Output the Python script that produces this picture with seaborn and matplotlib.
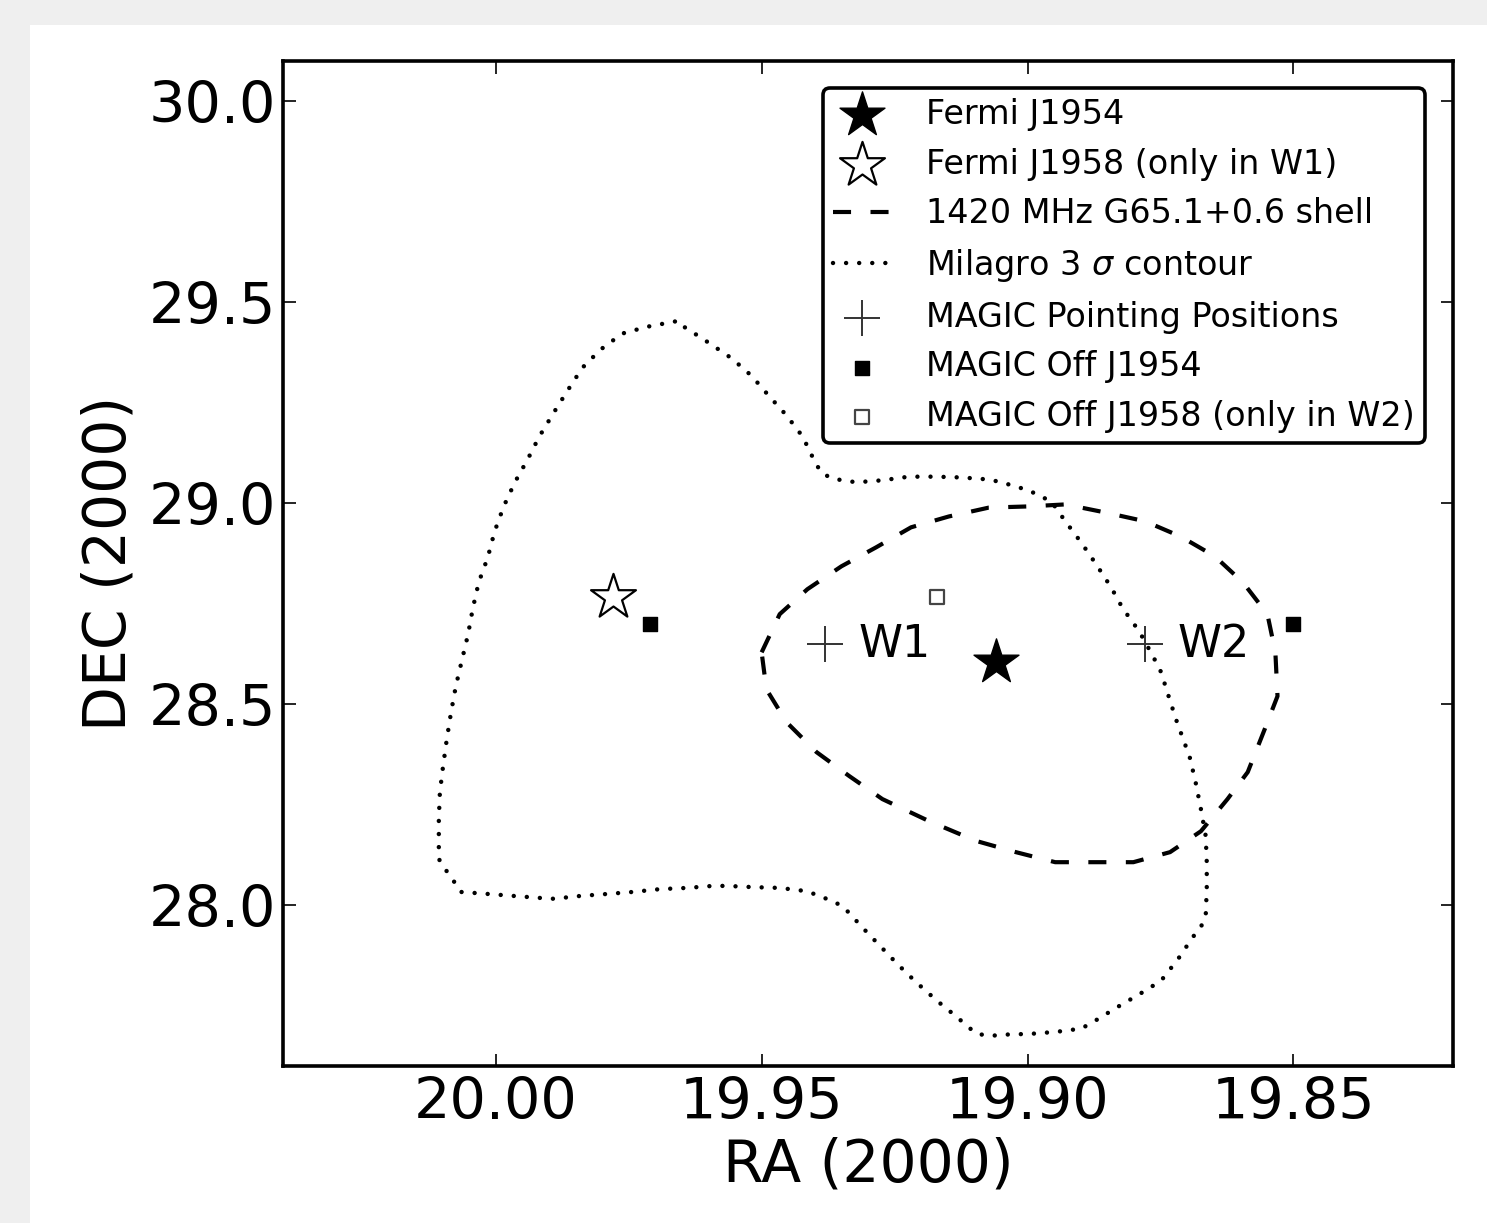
import numpy as np
import pandas as pd
import matplotlib
matplotlib.use("Agg")
import matplotlib.pyplot as plt
from matplotlib.patches import Rectangle
import seaborn as sns

# ---------------- data ----------------
fermi_j1954_ra = [19.906]
fermi_j1954_dec = [28.604]

fermi_j1958_ra = [19.978]
fermi_j1958_dec = [28.766]

pointing_ra = [19.938, 19.878]
pointing_dec = [28.649, 28.649]
pointing_labels = ["W1", "W2"]

off_j1954_ra = [19.971, 19.850]
off_j1954_dec = [28.699, 28.699]

off_j1958_ra = [19.917]
off_j1958_dec = [28.766]

shell_ra = [19.9500, 19.9466, 19.9414, 19.9350, 19.9285, 19.9219, 19.9148, 19.9073,
            19.8998, 19.8929, 19.8854, 19.8779, 19.8712, 19.8648, 19.8595, 19.8549,
            19.8534, 19.8530, 19.8554, 19.8586, 19.8624, 19.8674, 19.8732, 19.8801,
            19.8876, 19.8948, 19.9022, 19.9097, 19.9185, 19.9273, 19.9335, 19.9397,
            19.9453, 19.9491, 19.9500]
shell_dec = [28.629, 28.724, 28.786, 28.843, 28.890, 28.940, 28.967, 28.989,
             28.992, 28.997, 28.977, 28.955, 28.917, 28.868, 28.803, 28.724,
             28.629, 28.520, 28.438, 28.331, 28.264, 28.184, 28.132, 28.107,
             28.107, 28.107, 28.132, 28.160, 28.209, 28.264, 28.321, 28.381,
             28.455, 28.537, 28.629]

milagro_ra = [19.9663, 19.9715, 19.9762, 19.9803, 19.9837, 19.9865, 19.9891, 19.9918,
              19.9940, 19.9964, 19.9985, 20.0002, 20.0015, 20.0032, 20.0043, 20.0052,
              20.0064, 20.0075, 20.0084, 20.0092, 20.0099, 20.0105, 20.0107, 20.0107,
              20.0107, 20.0094, 20.0079, 20.0066, 20.0015, 19.9966, 19.9916, 19.9891,
              19.9841, 19.9790, 19.9742, 19.9691, 19.9640, 19.9592, 19.9566, 19.9517,
              19.9466, 19.9416, 19.9391, 19.9369, 19.9348, 19.9330, 19.9313, 19.9279,
              19.9245, 19.9210, 19.9170, 19.9133, 19.9114, 19.9096, 19.9069, 19.9045,
              19.8994, 19.8946, 19.8899, 19.8876, 19.8833, 19.8788, 19.8749, 19.8717,
              19.8689, 19.8674, 19.8665, 19.8663, 19.8663, 19.8665, 19.8674, 19.8684,
              19.8695, 19.8712, 19.8721, 19.8736, 19.8749, 19.8764, 19.8787, 19.8802,
              19.8820, 19.8843, 19.8871, 19.8899, 19.8929, 19.8955, 19.8998, 19.9049,
              19.9073, 19.9124, 19.9172, 19.9223, 19.9273, 19.9322, 19.9367, 19.9388,
              19.9401, 19.9423, 19.9453, 19.9487, 19.9519, 19.9556, 19.9597, 19.9640,
              19.9663]
milagro_dec = [29.452, 29.439, 29.422, 29.382, 29.337, 29.280, 29.225, 29.166,
               29.109, 29.052, 28.992, 28.930, 28.865, 28.803, 28.739, 28.674,
               28.607, 28.545, 28.480, 28.413, 28.346, 28.281, 28.214, 28.147,
               28.115, 28.088, 28.060, 28.033, 28.028, 28.023, 28.018, 28.016,
               28.023, 28.028, 28.033, 28.040, 28.043, 28.048, 28.048, 28.045,
               28.043, 28.035, 28.023, 28.011, 27.998, 27.973, 27.948, 27.901,
               27.854, 27.809, 27.762, 27.722, 27.700, 27.680, 27.675, 27.678,
               27.680, 27.685, 27.693, 27.710, 27.745, 27.780, 27.812, 27.866,
               27.921, 27.946, 27.973, 28.040, 28.107, 28.172, 28.239, 28.306,
               28.368, 28.430, 28.463, 28.525, 28.580, 28.619, 28.674, 28.704,
               28.736, 28.791, 28.848, 28.902, 28.955, 29.004, 29.032, 29.052,
               29.059, 29.064, 29.066, 29.066, 29.057, 29.052, 29.061, 29.076,
               29.106, 29.166, 29.218, 29.268, 29.317, 29.360, 29.397, 29.434,
               29.452]

x_ticks = [20.00, 19.95, 19.90, 19.85]
x_ticklabels = ["20.00", "19.95", "19.90", "19.85"]
y_ticks = [28.0, 28.5, 29.0, 29.5, 30.0]
y_ticklabels = ["28.0", "28.5", "29.0", "29.5", "30.0"]

labels = ["Fermi J1954", "Fermi J1958 (only in W1)", "1420 MHz G65.1+0.6 shell",
          "Milagro 3 $\\sigma$ contour", "MAGIC Pointing Positions",
          "MAGIC Off J1954", "MAGIC Off J1958 (only in W2)"]

# ---------------- style ----------------
sns.set_theme(style="white")
plt.rcParams["font.family"] = ["DejaVu Sans"]
plt.rcParams["lines.scale_dashes"] = False
plt.rcParams["mathtext.fontset"] = "dejavusans"
plt.rcParams["text.color"] = "black"
plt.rcParams["axes.labelcolor"] = "black"

DPI = 200
fig = plt.figure(figsize=(1487 / DPI, 1223 / DPI), dpi=DPI, facecolor="#efefef")
bg = Rectangle((30 / 1487, 0), 1 - 30 / 1487, 1 - 25 / 1223,
               transform=fig.transFigure, facecolor="white", edgecolor="none", zorder=-10)
fig.add_artist(bg)
ax = fig.add_axes([283 / 1487, 1 - 1066 / 1223, (1453 - 283) / 1487, (1066 - 61) / 1223])
ax.set_zorder(1)
ax.set_facecolor("white")

# markers / lines in legend order
sns.scatterplot(x=fermi_j1954_ra, y=fermi_j1954_dec, ax=ax, marker="*", s=17 ** 2,
                color="black", edgecolor="black", linewidth=0.5, label=labels[0], zorder=5)
sns.scatterplot(x=fermi_j1958_ra, y=fermi_j1958_dec, ax=ax, marker="*", s=17 ** 2,
                facecolor="white", edgecolor="black", linewidth=0.8, label=labels[1], zorder=5)
sns.lineplot(x=shell_ra, y=shell_dec, ax=ax, sort=False, estimator=None, color="black",
             linewidth=1.5, linestyle=(0, (6.5, 7.0)), label=labels[2])
sns.lineplot(x=milagro_ra, y=milagro_dec, ax=ax, sort=False, estimator=None, color="black",
             linewidth=1.6, linestyle=(0, (0.01, 4.7)), dash_capstyle="round",
             label=labels[3])
sns.scatterplot(x=pointing_ra, y=pointing_dec, ax=ax, marker="+", s=13 ** 2,
                color="#333333", linewidth=0.7, label=labels[4], zorder=5)
sns.scatterplot(x=off_j1954_ra, y=off_j1954_dec, ax=ax, marker="s", s=5.2 ** 2,
                color="black", edgecolor="black", linewidth=0.5, label=labels[5], zorder=5)
sns.scatterplot(x=off_j1958_ra, y=off_j1958_dec, ax=ax, marker="s", s=5.2 ** 2,
                facecolor="white", edgecolor="#444444", linewidth=0.8, label=labels[6], zorder=5)

for ra, dec, lab in zip(pointing_ra, pointing_dec, pointing_labels):
    ax.text(ra - 0.0062, dec, lab, fontsize=16, ha="left", va="center", color="black")

ax.set_xlim(20.04, 19.82)
ax.set_ylim(27.6, 30.1)
ax.set_xticks(x_ticks)
ax.set_xticklabels(x_ticklabels)
ax.set_yticks(y_ticks)
ax.set_yticklabels(y_ticklabels)
ax.tick_params(direction="in", length=4.5, width=0.6, color="black", labelsize=20.6,
               top=True, right=True, bottom=True, left=True, labelcolor="black")
ax.tick_params(axis="y", pad=2.5)
ax.tick_params(axis="x", pad=3.5)
ax.set_xlabel("RA (2000)", fontsize=21, color="black", labelpad=2)
ax.set_ylabel("DEC (2000)", fontsize=21, color="black", labelpad=4)
for sp in ax.spines.values():
    sp.set_visible(True)
    sp.set_color("black")
    sp.set_linewidth(1.3)

leg = ax.legend(loc="upper right", bbox_to_anchor=((1425 - 283) / 1170, (1066 - 88) / 1005),
                borderaxespad=0, fontsize=12, frameon=True, fancybox=True,
                handlelength=1.75, handletextpad=1.05, borderpad=0.3, labelspacing=0.5,
                scatterpoints=1, labelcolor="black")
frame = leg.get_frame()
frame.set_edgecolor("black")
frame.set_linewidth(1.3)
frame.set_facecolor("white")
frame.set_alpha(1)

fig.savefig("out.png", dpi=DPI, facecolor=fig.get_facecolor())
